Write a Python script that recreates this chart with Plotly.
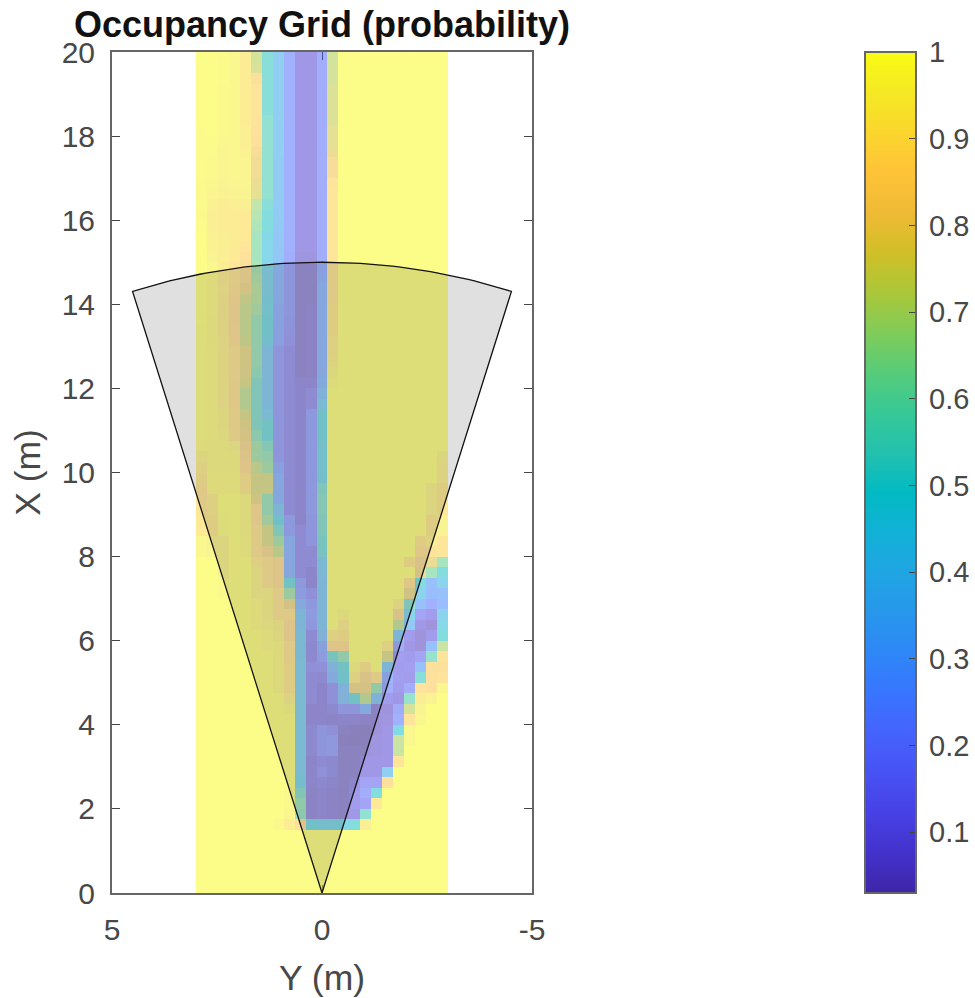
import numpy as np
import plotly.graph_objects as go

# Occupancy probability, percent. Rows run from X = 20 m (top) to X = 0 m (bottom),
# columns from Y = +3 m (left) to Y = -3 m (right).
G = 100
occupancy_pct = [
 [G,G,99,97,92,72,52,38,22,8,8,20,72,G,G,G,G,G,G,G,G,G,G],
 [G,G,99,97,92,73,52,38,22,8,8,20,72,G,G,G,G,G,G,G,G,G,G],
 [G,G,99,97,92,84,52,38,22,8,8,20,72,G,G,G,G,G,G,G,G,G,G],
 [G,G,98,97,92,87,52,38,22,8,8,20,74,G,G,G,G,G,G,G,G,G,G],
 [G,G,98,97,92,87,52,38,22,8,8,20,74,G,G,G,G,G,G,G,G,G,G],
 [G,G,98,97,92,87,52,38,22,8,8,20,74,G,G,G,G,G,G,G,G,G,G],
 [G,G,98,97,92,87,55,38,22,8,8,20,74,G,G,G,G,G,G,G,G,G,G],
 [99,G,98,97,93,86,56,38,22,8,8,20,76,G,G,G,G,G,G,G,G,G,G],
 [99,99,97,97,93,85,56,38,22,8,8,20,76,G,G,G,G,G,G,G,G,G,G],
 [99,99,96,97,94,82,56,38,22,8,8,20,78,G,G,G,G,G,G,G,G,G,G],
 [99,98,96,97,96,80,56,36,22,8,8,20,82,G,G,G,G,G,G,G,G,G,G],
 [99,98,96,97,96,80,56,36,22,8,8,20,82,G,G,G,G,G,G,G,G,G,G],
 [98,97,95,96,96,78,56,36,22,8,8,20,87,G,G,G,G,G,G,G,G,G,G],
 [98,96,94,95,95,76,56,36,22,8,8,20,88,G,G,G,G,G,G,G,G,G,G],
 [99,94,92,93,93,68,52,36,22,8,8,20,88,G,G,G,G,G,G,G,G,G,G],
 [98,93,92,92,90,66,50,36,22,8,8,20,88,G,G,G,G,G,G,G,G,G,G],
 [99,93,92,92,90,64,50,35,22,8,8,20,88,G,G,G,G,G,G,G,G,G,G],
 [G,94,93,92,90,62,46,34,22,8,8,20,88,G,G,G,G,G,G,G,G,G,G],
 [G,94,93,91,88,62,44,34,22,8,8,20,88,G,G,G,G,G,G,G,G,G,G],
 [G,95,93,90,86,62,44,34,20,6,6,20,88,G,G,G,G,G,G,G,G,G,G],
 [G,97,92,88,84,64,44,30,18,5,5,24,88,G,G,G,G,G,G,G,G,G,G],
 [G,98,92,88,83,66,44,28,18,5,5,26,88,G,G,G,G,G,G,G,G,G,G],
 [G,98,93,87,80,68,44,28,18,5,5,28,88,G,G,G,G,G,G,G,G,G,G],
 [G,98,92,86,74,68,45,28,18,5,5,28,88,G,G,G,G,G,G,G,G,G,G],
 [G,98,92,85,72,66,47,26,18,5,6,28,90,G,G,G,G,G,G,G,G,G,G],
 [G,97,92,85,72,62,48,26,17,5,6,28,90,G,G,G,G,G,G,G,G,G,G],
 [99,97,92,86,72,62,48,25,16,5,6,28,90,G,G,G,G,G,G,G,G,G,G],
 [99,97,93,86,73,62,46,24,15,5,6,28,92,G,G,G,G,G,G,G,G,G,G],
 [99,98,93,88,78,62,38,18,12,5,6,28,92,G,G,G,G,G,G,G,G,G,G],
 [99,98,93,88,78,62,38,18,12,5,6,28,94,G,G,G,G,G,G,G,G,G,G],
 [99,98,93,88,78,60,38,18,12,5,6,28,96,G,G,G,G,G,G,G,G,G,G],
 [99,98,93,87,76,55,38,18,12,8,8,30,98,G,G,G,G,G,G,G,G,G,G],
 [99,98,93,87,70,55,38,18,12,8,12,35,G,G,G,G,G,G,G,G,G,G,G],
 [99,98,93,87,70,55,38,18,12,8,12,42,G,G,G,G,G,G,G,G,G,G,G],
 [99,98,95,88,75,55,42,18,12,8,20,48,G,G,G,G,G,G,G,G,G,G,G],
 [99,98,95,88,78,55,50,18,12,8,20,48,G,G,G,G,G,G,G,G,G,G,G],
 [99,98,96,88,80,60,50,18,12,8,20,48,G,G,G,G,G,G,G,G,G,G,G],
 [98,97,97,95,82,65,58,18,12,8,20,47,G,G,G,G,G,G,G,G,G,G,G],
 [95,97,97,97,84,65,62,18,12,8,20,47,G,G,G,G,G,G,G,G,G,G,95],
 [92,97,97,97,85,72,65,25,12,8,20,47,G,G,G,G,G,G,G,G,G,G,94],
 [90,98,98,98,90,75,75,28,12,8,20,45,G,G,G,G,G,G,G,G,G,G,93],
 [88,98,98,98,90,75,75,28,12,8,20,55,G,G,G,G,G,G,G,G,G,95,90],
 [88,92,G,G,97,78,62,28,12,8,20,58,G,G,G,G,G,G,G,G,G,95,90],
 [88,92,G,G,97,86,62,38,12,8,20,58,G,G,G,G,G,G,G,G,G,95,90],
 [90,90,99,G,97,86,66,48,20,8,18,55,G,G,G,G,G,G,G,G,G,90,95],
 [90,90,99,G,97,88,75,55,20,12,18,55,G,G,G,G,G,G,G,G,G,90,95],
 [97,95,95,G,98,88,75,65,28,12,18,52,G,G,G,G,G,G,G,G,90,93,88],
 [97,95,95,G,98,88,82,72,28,12,12,52,G,G,G,G,G,G,G,G,87,87,88],
 [G,G,95,G,G,92,88,85,28,12,12,40,G,G,G,G,G,G,G,90,82,78,62],
 [G,G,95,G,G,95,88,85,28,12,8,40,G,G,G,G,G,G,G,G,80,62,50],
 [G,G,98,G,G,95,88,85,50,20,8,38,G,G,G,G,G,G,G,87,50,30,42],
 [G,G,98,G,G,95,95,88,65,22,15,38,G,G,G,G,G,G,G,78,42,28,30],
 [G,G,G,G,G,98,95,88,80,30,20,38,G,G,G,G,G,G,93,55,30,22,28],
 [G,G,G,G,G,98,95,88,88,38,22,38,G,97,G,G,G,G,82,42,15,10,42],
 [G,G,G,G,G,98,96,94,85,38,20,38,G,92,G,G,G,G,70,35,8,5,45],
 [G,G,G,G,G,G,98,95,85,40,12,35,92,90,G,G,G,G,38,10,5,10,50],
 [G,G,G,G,G,G,98,97,88,40,10,25,85,85,G,G,G,92,20,8,5,30,70],
 [G,G,G,G,G,G,G,97,88,40,10,22,52,62,G,G,G,75,12,10,15,58,87],
 [G,G,G,G,G,G,G,97,90,42,15,15,35,50,97,90,G,38,10,12,30,85,85],
 [G,G,G,G,G,G,G,97,90,42,12,10,30,48,92,82,88,25,12,10,52,85,87],
 [G,G,G,G,G,G,G,97,90,42,12,8,15,35,80,80,62,20,10,20,87,85,97],
 [G,G,G,G,G,G,G,G,93,42,12,8,15,35,50,70,35,10,8,58,92,95,G],
 [G,G,G,G,G,G,G,G,97,42,8,8,10,18,18,30,6,5,18,72,95,G,G],
 [G,G,G,G,G,G,G,G,G,42,8,8,7,8,8,6,5,6,22,87,97,G,G],
 [G,G,G,G,G,G,G,G,G,42,10,18,15,5,4,3,5,8,48,97,G,G,G],
 [G,G,G,G,G,G,G,G,G,42,10,18,20,4,3,4,6,8,70,97,G,G,G],
 [G,G,G,G,G,G,G,G,G,42,10,18,20,5,5,5,6,8,70,G,G,G,G],
 [G,G,G,G,G,G,G,G,G,42,8,12,10,5,5,8,8,8,88,G,G,G,G],
 [G,G,G,G,G,G,G,G,G,42,8,15,10,5,5,8,8,38,G,G,G,G,G],
 [G,G,G,G,G,G,G,G,G,45,8,10,8,5,8,15,15,85,G,G,G,G,G],
 [G,G,G,G,G,G,G,G,98,55,6,8,6,5,10,20,50,G,G,G,G,G,G],
 [G,G,G,G,G,G,G,G,98,62,6,8,6,5,10,15,90,G,G,G,G,G,G],
 [G,G,G,G,G,G,G,G,96,60,6,8,6,5,8,55,G,G,G,G,G,G,G],
 [G,G,G,G,G,G,G,98,92,85,48,46,46,46,50,93,G,G,G,G,G,G,G],
 [G,G,G,G,G,G,G,G,G,G,G,G,G,G,G,G,G,G,G,G,G,G,G],
 [G,G,G,G,G,G,G,G,G,G,G,G,G,G,G,G,G,G,G,G,G,G,G],
 [G,G,G,G,G,G,G,G,G,G,G,G,G,G,G,G,G,G,G,G,G,G,G],
 [G,G,G,G,G,G,G,G,G,G,G,G,G,G,G,G,G,G,G,G,G,G,G],
 [G,G,G,G,G,G,G,G,G,G,G,G,G,G,G,G,G,G,G,G,G,G,G],
 [G,G,G,G,G,G,G,G,G,G,G,G,G,G,G,G,G,G,G,G,G,G,G],
]

y_limits = [3.0, -3.0]
x_limits = [20.0, 0.0]
x_ticks = list(range(0, 21, 2))
y_ticks = [5, 0, -5]
cbar_ticks = [0.1, 0.2, 0.3, 0.4, 0.5, 0.6, 0.7, 0.8, 0.9, 1.0]
cbar_labels = ["\u20090.1", "\u20090.2", "\u20090.3", "\u20090.4", "\u20090.5",
               "\u20090.6", "\u20090.7", "\u20090.8", "\u20090.9", "\u20091"]
sensor_range_m = 15.0
sensor_fov_deg = 35.0

parula = [
    (0.2422, 0.1504, 0.6603), (0.2647, 0.1978, 0.7952), (0.2783, 0.2559, 0.8991),
    (0.2810, 0.3228, 0.9579), (0.2699, 0.3892, 0.9906), (0.2206, 0.4603, 0.9973),
    (0.1786, 0.5289, 0.9682), (0.1540, 0.5902, 0.9218), (0.1248, 0.6459, 0.8883),
    (0.0689, 0.6948, 0.8394), (0.0067, 0.7312, 0.7660), (0.1408, 0.7584, 0.6842),
    (0.2161, 0.7843, 0.5923), (0.3406, 0.8008, 0.4789), (0.5044, 0.7993, 0.3480),
    (0.6720, 0.7793, 0.2227), (0.8203, 0.7498, 0.1535), (0.9393, 0.7288, 0.2100),
    (0.9970, 0.7659, 0.2199), (0.9786, 0.8386, 0.1766), (0.9597, 0.9135, 0.1423),
    (0.9769, 0.9839, 0.0805),
]
colorscale = [[i / (len(parula) - 1), f"rgb({r*255:.0f},{g*255:.0f},{b*255:.0f})"]
              for i, (r, g, b) in enumerate(parula)]

Z = np.array(occupancy_pct, dtype=float) / 100.0
nrows, ncols = Z.shape
dy = (y_limits[0] - y_limits[1]) / ncols
dx = (x_limits[0] - x_limits[1]) / nrows
y_centres = [y_limits[0] - (i + 0.5) * dy for i in range(ncols)]
x_centres = [x_limits[0] - (i + 0.5) * dx for i in range(nrows)]

theta = np.radians(np.linspace(-sensor_fov_deg / 2, sensor_fov_deg / 2, 61))
wedge_y = np.concatenate([[0.0], sensor_range_m * np.sin(theta), [0.0]])
wedge_x = np.concatenate([[0.0], sensor_range_m * np.cos(theta), [0.0]])

TEXT = "#484848"
AXIS = "#666666"
FONT = "Liberation Sans"

fig = go.Figure()
fig.add_trace(go.Heatmap(
    z=Z, x=y_centres, y=x_centres, zmin=0.03, zmax=1.0, colorscale=colorscale,
    opacity=0.5, zsmooth=False, hoverinfo="skip",
    colorbar=dict(
        x=1.793, xanchor="left", xpad=0, y=0, yanchor="bottom", ypad=0,
        len=1, lenmode="fraction", thickness=51, thicknessmode="pixels",
        outlinecolor=AXIS, outlinewidth=2, ticks="inside", ticklen=8,
        tickcolor="#444444", tickwidth=1.2, tickvals=cbar_ticks, ticktext=cbar_labels,
        tickfont=dict(family=FONT, size=29, color=TEXT),
    ),
))
fig.add_trace(go.Scatter(
    x=wedge_y, y=wedge_x, mode="lines", fill="toself",
    fillcolor="rgba(0,0,0,0.12)", line=dict(color="#111111", width=1.3),
    hoverinfo="skip", showlegend=False,
))

axis_common = dict(
    showgrid=False, zeroline=False, showline=True, mirror="ticks", layer="below traces",
    linecolor=AXIS, linewidth=2, ticks="inside", ticklen=8, tickwidth=1.2,
    tickcolor="#444444", tickfont=dict(family=FONT, size=30, color=TEXT),
    ticklabelstandoff=9,
)
fig.update_layout(
    width=975, height=998, margin=dict(l=112, r=443, t=52, b=105, autoexpand=False),
    paper_bgcolor="white", plot_bgcolor="white", showlegend=False,
    title=dict(text="<b>Occupancy Grid (probability)</b>",
               font=dict(family=FONT, size=36, color="#111111"),
               xref="paper", x=0.5, xanchor="center",
               yref="container", y=0.976, yanchor="middle"),
    xaxis=dict(range=[5, -5], tickvals=y_ticks, ticktext=["5", "0", "-5"],
               title=dict(text="Y (m)", font=dict(family=FONT, size=35.5, color=TEXT), standoff=21),
               **axis_common),
    yaxis=dict(range=[0, 20], tickvals=x_ticks,
               title=dict(text="X (m)", font=dict(family=FONT, size=35.5, color=TEXT), standoff=10),
               **axis_common),
)
fig.write_html("out.html", post_script="document.body.style.margin='0';",
               config={"displayModeBar": False})
